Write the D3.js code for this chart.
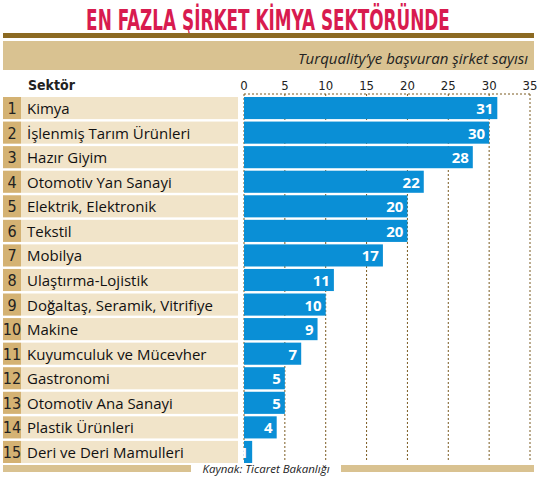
<!DOCTYPE html><html><head><meta charset="utf-8">
<script src="https://cdn.jsdelivr.net/npm/d3@7"></script>
<style>body{margin:0;background:#fff}</style></head><body>
<svg id="c" width="537" height="477"></svg>
<script>
const categories=["Kimya","İşlenmiş Tarım Ürünleri","Hazır Giyim","Otomotiv Yan Sanayi","Elektrik, Elektronik","Tekstil","Mobilya","Ulaştırma-Lojistik","Doğaltaş, Seramik, Vitrifiye","Makine","Kuyumculuk ve Mücevher","Gastronomi","Otomotiv Ana Sanayi","Plastik Ürünleri","Deri ve Deri Mamulleri"];
const values=[31,30,28,22,20,20,17,11,10,9,7,5,5,4,1];
const ticks=[0,5,10,15,20,25,30,35];
const svg=d3.select("#c");
const x=d3.scaleLinear().domain([0,35]).range([244,530]);
const y=d3.scaleBand().domain(d3.range(categories.length)).range([97,463]).paddingInner(0.1);
svg.append("text").attr("x",268).attr("y",30).attr("text-anchor","middle").attr("fill","#d81b4f")
 .style("font","bold 28px 'Liberation Sans Narrow','DejaVu Sans Condensed',sans-serif").attr("transform","translate(268,0) scale(0.67,1) translate(-268,0)").text("EN FAZLA ŞİRKET KİMYA SEKTÖRÜNDE");
svg.append("rect").attr("x",3).attr("y",33).attr("width",531).attr("height",5).attr("fill","#8c6a22");
svg.append("rect").attr("x",3).attr("y",41).attr("width",531).attr("height",29).attr("fill","#d9c291");
svg.append("text").attr("x",528).attr("y",64).attr("text-anchor","end").style("font","italic 15px 'Open Sans',sans-serif").attr("fill","#222").text("Turquality’ye başvuran şirket sayısı");
svg.append("text").attr("x",28).attr("y",90).style("font","bold 14px 'DejaVu Sans Condensed',sans-serif").attr("fill","#222").text("Sektör");
svg.selectAll(".tk").data(ticks).join("text").attr("x",d=>x(d)).attr("y",90).attr("text-anchor","middle")
 .style("font","13px 'DejaVu Sans Condensed',sans-serif").attr("fill","#222").text(d=>d);
svg.selectAll(".gl").data(ticks).join("line").attr("x1",d=>x(d)).attr("x2",d=>x(d)).attr("y1",94).attr("y2",462)
 .attr("stroke","#7a5a20").attr("stroke-width",1).attr("stroke-dasharray","2,2");
svg.append("line").attr("x1",x(0)).attr("x2",x(35)).attr("y1",94).attr("y2",94).attr("stroke","#7a5a20").attr("stroke-dasharray","2,2");
const g=svg.selectAll(".r").data(categories).join("g");
g.append("rect").attr("x",3).attr("y",(d,i)=>y(i)).attr("width",18).attr("height",y.bandwidth()).attr("fill","#d4b273");
g.append("rect").attr("x",21).attr("y",(d,i)=>y(i)).attr("width",217).attr("height",y.bandwidth()).attr("fill","#f1e4c9");
g.append("text").attr("x",12).attr("y",(d,i)=>y(i)+y.bandwidth()/2+6).attr("text-anchor","middle")
 .style("font","16px 'DejaVu Sans Condensed',sans-serif").attr("fill","#222").text((d,i)=>i+1);
g.append("text").attr("x",27).attr("y",(d,i)=>y(i)+y.bandwidth()/2+6)
 .style("font","15px 'Open Sans',sans-serif").attr("fill","#111").text(d=>d);
g.append("rect").attr("x",x(0)).attr("y",(d,i)=>y(i)).attr("width",(d,i)=>x(values[i])-x(0)).attr("height",y.bandwidth()).attr("fill","#0a8fd6");
g.append("text").attr("x",(d,i)=>x(values[i])-4).attr("y",(d,i)=>y(i)+y.bandwidth()/2+6).attr("text-anchor","end")
 .style("font","bold 15px 'Open Sans',sans-serif").attr("fill","#fff").text((d,i)=>values[i]);
svg.append("rect").attr("x",3).attr("y",465).attr("width",188).attr("height",7).attr("fill","#d9c291");
svg.append("rect").attr("x",341).attr("y",465).attr("width",193).attr("height",7).attr("fill","#d9c291");
svg.append("text").attr("x",266).attr("y",473).attr("text-anchor","middle").style("font","italic 11.5px 'Open Sans',sans-serif").attr("fill","#222").text("Kaynak: Ticaret Bakanlığı");
</script></body></html>
